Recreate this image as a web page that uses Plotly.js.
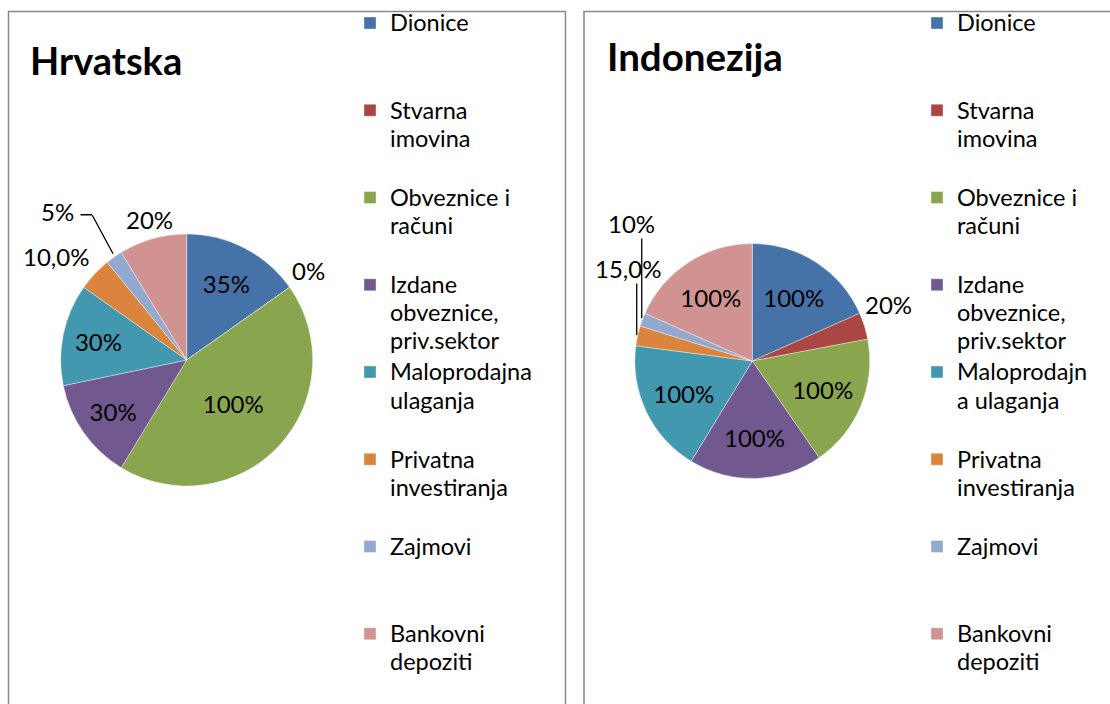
<!DOCTYPE html>
<html>
<head>
<meta charset="utf-8">
<script src="https://cdn.plot.ly/plotly-3.0.1.min.js"></script>
<style>
  html, body { margin: 0; padding: 0; background: #ffffff; }
  #chart { width: 1110px; height: 704px; }
</style>
</head>
<body>
<div id="chart"></div>
<script>
// ---- data ----
const categories = ["Dionice", "Stvarna imovina", "Obveznice i računi", "Izdane obveznice, priv.sektor",
                    "Maloprodajna ulaganja", "Privatna investiranja", "Zajmovi", "Bankovni depoziti"];
const legendLabelsHr = ["Dionice", "Stvarna<br>imovina", "Obveznice i<br>računi", "Izdane<br>obveznice,<br>priv.sektor",
                        "Maloprodajna<br>ulaganja", "Privatna<br>investiranja", "Zajmovi", "Bankovni<br>depoziti"];
const legendLabelsId = ["Dionice", "Stvarna<br>imovina", "Obveznice i<br>računi", "Izdane<br>obveznice,<br>priv.sektor",
                        "Maloprodajn<br>a ulaganja", "Privatna<br>investiranja", "Zajmovi", "Bankovni<br>depoziti"];
const valuesHr = [35, 0, 100, 30, 30, 10, 5, 20];
const valuesId = [100, 20, 100, 100, 100, 15, 10, 100];
const textHr = ["35%", "0%", "100%", "30%", "30%", "10,0%", "5%", "20%"];
const textId = ["100%", "20%", "100%", "100%", "100%", "15,0%", "10%", "100%"];
const colors = ["#4572A7", "#AA4643", "#89A54E", "#71588F", "#4198AF", "#DB843D", "#93A9CF", "#D19392"];

// ---- style / geometry ----
const W = 1110, H = 704;
const px = v => v / W;
const py = v => 1 - v / H;
const FONT = "Lato, 'Open Sans', sans-serif";
const geoHr = { cx: 186.7, cy: 360, r: 126 };
const geoId = { cx: 752.3, cy: 361, r: 117.5 };
// outside label placement (pixel offsets from the slice's outer mid-point), per slice index
const placeHr = {
  1: { dx: 18.4, dy: -16.5 },
  5: { dx: -38.6, dy: -17 },
  6: { dx: -57, dy: -45.5, line: [[-1, -3.3], [-22, -42.3], [-34, -42.3]] },
  7: { dx: -3.2, dy: -19.2 }
};
const placeId = {
  1: { dx: 24.5, dy: -21 },
  5: { dx: -9.5, dy: -66.8, line: [[-0.8, -0.8], [-0.8, -52.8]] },
  6: { dx: -10.8, dy: -95.7, line: [[-0.6, -1.7], [-0.6, -81.7]] }
};

const LEG_LINES = 3;
function padLines(lbl, isLast, suffix) {
  const n = lbl.split("<br>").length;
  const target = isLast ? Math.max(n, 2) : LEG_LINES;
  let out = "<span style='font-size:23.5px'>" + lbl.split("<br>").join("</span><br><span style='font-size:23.5px'>") + suffix + "</span>";
  for (let i = n; i < target; i++) out += "<br>\u00a0";
  return out;
}
const legHr = legendLabelsHr.map((l, i) => padLines(l, i === legendLabelsHr.length - 1, ""));
const legId = legendLabelsId.map((l, i) => padLines(l, i === legendLabelsId.length - 1, "\u200b"));

function positions(place, n) {
  const out = [];
  for (let i = 0; i < n; i++) out.push(place[i] ? "none" : "inside");
  return out;
}

function domainOf(g) {
  return { x: [px(g.cx - g.r), px(g.cx + g.r)], y: [py(g.cy + g.r), py(g.cy - g.r)] };
}

const labelFont = { family: FONT, size: 24, color: "#000000" };

function outsideAnnotations(vals, texts, g, place) {
  const tot = vals.reduce((a, b) => a + b, 0);
  let cum = 0;
  const anns = [];
  vals.forEach((v, i) => {
    const a0 = cum / tot * 2 * Math.PI;
    cum += v;
    const a1 = cum / tot * 2 * Math.PI;
    const p = place[i];
    if (!p) return;
    const mid = (a0 + a1) / 2;
    const ex = g.cx + g.r * Math.sin(mid);
    const ey = g.cy - g.r * Math.cos(mid);
    anns.push({ text: texts[i], xref: "paper", yref: "paper", x: px(ex + p.dx), y: py(ey + p.dy),
      xanchor: "center", yanchor: "middle", showarrow: false, font: labelFont });
    if (p.line) {
      for (let k = 0; k < p.line.length - 1; k++) {
        const a = p.line[k], b = p.line[k + 1];
        anns.push({ text: "", xref: "paper", yref: "paper", x: px(ex + a[0]), y: py(ey + a[1]),
          axref: "pixel", ayref: "pixel", ax: b[0] - a[0], ay: b[1] - a[1],
          showarrow: true, arrowhead: 0, arrowwidth: 1.3, arrowcolor: "#000000",
          standoff: 0, startstandoff: 0, borderpad: 0 });
      }
    }
  });
  return anns;
}

const common = {
  type: "pie",
  sort: false,
  direction: "clockwise",
  rotation: 0,
  textinfo: "text",
  hoverinfo: "label+value",
  insidetextorientation: "horizontal",
  textfont: labelFont,
  insidetextfont: labelFont,
  outsidetextfont: labelFont,
  marker: { colors: colors, line: { color: "rgba(255,255,255,0.55)", width: 0.7 } },
  automargin: false
};

const traceHr = Object.assign({}, common, {
  labels: legHr,
  values: valuesHr,
  text: textHr,
  textposition: positions(placeHr, valuesHr.length),
  domain: domainOf(geoHr),
  legend: "legend"
});
const traceId = Object.assign({}, common, {
  labels: legId,
  values: valuesId,
  text: textId,
  textposition: positions(placeId, valuesId.length),
  domain: domainOf(geoId),
  legend: "legend2"
});

const legendCommon = {
  orientation: "v",
  xanchor: "left",
  yanchor: "top",
  valign: "top",
  bgcolor: "rgba(0,0,0,0)",
  borderwidth: 0,
  font: { family: FONT, size: 21.6, color: "#000000" },
  itemclick: false,
  itemdoubleclick: false,
  maxheight: 704
};

const layout = {
  width: W,
  height: H,
  margin: { l: 0, r: 0, t: 0, b: 0, autoexpand: false },
  paper_bgcolor: "#ffffff",
  plot_bgcolor: "#ffffff",
  showlegend: true,
  legend: Object.assign({}, legendCommon, { x: px(350), y: py(2.5) }),
  legend2: Object.assign({}, legendCommon, { x: px(917), y: py(2.5) }),
  shapes: [
    { type: "rect", xref: "paper", yref: "paper", x0: px(8.5), x1: px(565.5), y0: py(720), y1: py(11.5),
      line: { color: "#888888", width: 1.5 }, fillcolor: "rgba(0,0,0,0)", layer: "below" },
    { type: "rect", xref: "paper", yref: "paper", x0: px(584), x1: px(1130), y0: py(720), y1: py(11.5),
      line: { color: "#888888", width: 1.5 }, fillcolor: "rgba(0,0,0,0)", layer: "below" }
  ],
  annotations: [
    { text: "Hrvatska", xref: "paper", yref: "paper", x: px(28), y: py(60), xanchor: "left", yanchor: "middle",
      showarrow: false, font: { family: FONT, size: 38, color: "#000000", weight: 700 } },
    { text: "Indonezija", xref: "paper", yref: "paper", x: px(605), y: py(56), xanchor: "left", yanchor: "middle",
      showarrow: false, font: { family: FONT, size: 38.5, color: "#000000", weight: 700 } }
  ].concat(outsideAnnotations(valuesHr, textHr, geoHr, placeHr))
   .concat(outsideAnnotations(valuesId, textId, geoId, placeId))
};

Plotly.newPlot("chart", [traceHr, traceId], layout, { displayModeBar: false, staticPlot: true });
</script>
</body>
</html>
